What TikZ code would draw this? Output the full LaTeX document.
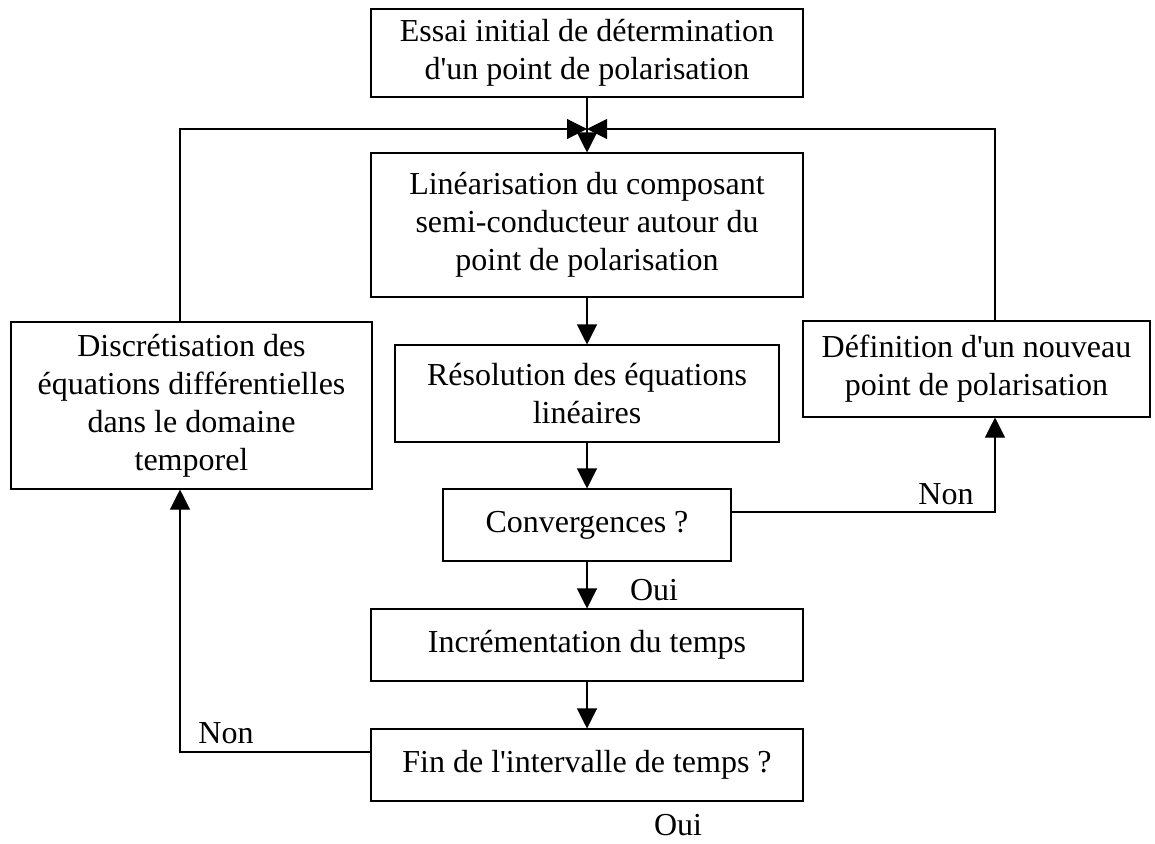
\documentclass[tikz,border=0pt]{standalone}
\usepackage{fontspec}
\setmainfont{Liberation Serif}
\usepackage{tikz}
\usetikzlibrary{arrows.meta,calc,positioning}
\newcommand\apos{\textquotesingle}

\begin{document}
\begin{tikzpicture}[x=0.75pt,y=-0.75pt,>={Triangle[length=15pt,width=15pt]},
  line width=0.8pt,
  every node/.style={font=\fontsize{24}{28.5}\selectfont},
  box/.style={draw,align=center,inner sep=0pt},
  lbl/.style={inner sep=0pt}]
  \useasboundingbox (0,0) rectangle (1155,843);
  % boxes
  \node[box,minimum width=324pt,minimum height=66pt] (essai) at (587,53)
    {Essai initial de détermination\\d\apos un point de polarisation};
  \node[box,minimum width=324pt,minimum height=108pt] (lin) at (587,225)
    {Linéarisation du composant\\semi-conducteur autour du\\point de polarisation};
  \node[box,minimum width=288pt,minimum height=72.75pt] (reso) at (587,393.5)
    {Résolution des équations\\linéaires};
  \node[box,minimum width=216pt,minimum height=54pt] (conv) at (587,525) {Convergences ?};
  \node[box,minimum width=324pt,minimum height=54pt] (incr) at (587,645) {Incrémentation du temps};
  \node[box,minimum width=324pt,minimum height=54pt] (fin) at (587,765) {Fin de l\apos intervalle de temps ?};
  \node[box,minimum width=270.75pt,minimum height=125.25pt] (disc) at (191.5,405.5)
    {Discrétisation des\\équations différentielles\\dans le domaine\\temporel};
  \node[box,minimum width=260.25pt,minimum height=72pt] (defi) at (976.5,369)
    {Définition d\apos un nouveau\\point de polarisation};
  % corners of the loops
  \coordinate (join) at (587,129);
  \coordinate (lcol) at (180,129);
  \coordinate (rcol) at (995,129);
  \coordinate (nonR) at (995,512);
  \coordinate (nonL) at (180,752);
  % connectors
  \draw[->] (essai) -- (lin);
  \draw[->] (disc.north -| lcol) |- (join);
  \draw[->] (defi.north -| rcol) |- (join);
  \draw[->] (lin) -- (reso);
  \draw[->] (reso) -- (conv);
  \draw[->] (conv.east |- nonR) -| (defi.south -| nonR);
  \draw[->] (conv) -- (incr);
  \draw[->] (incr) -- (fin);
  \draw[->] (fin.west |- nonL) -| (disc.south -| nonL);
  % labels
  \node[lbl] (nonr) at (946,494) {Non};
  \node[lbl] (ouiC) at (654,590) {Oui};
  \node[lbl] (nonl) at (226,733) {Non};
  \node[lbl] (ouiF) at (678,825) {Oui};
\end{tikzpicture}
\end{document}
